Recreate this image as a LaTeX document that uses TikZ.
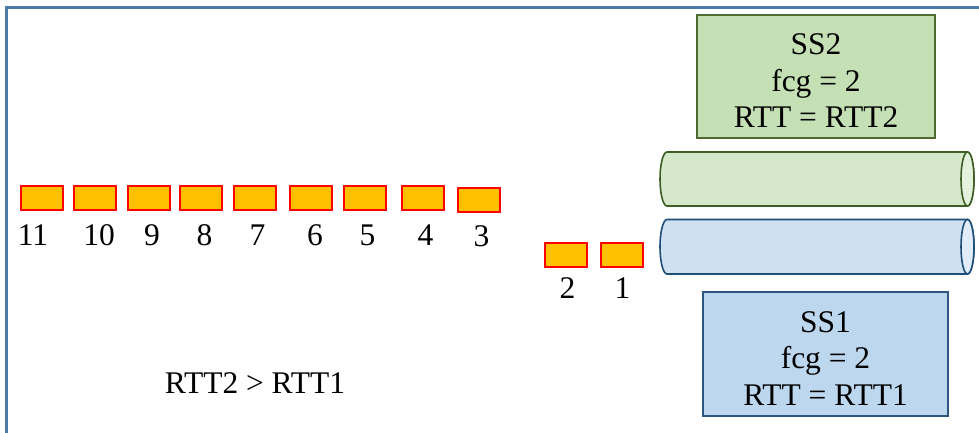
\documentclass[tikz,border=0pt]{standalone}
\usepackage{fontspec}
\setmainfont{Liberation Serif}
\definecolor{framec}{HTML}{4C7BAA}
\definecolor{pktfill}{HTML}{FFC000}
\definecolor{ssgfill}{HTML}{C5E0B4}
\definecolor{ssgdraw}{HTML}{4E6B2F}
\definecolor{ssbfill}{HTML}{BDD7EE}
\definecolor{ssbdraw}{HTML}{2B5680}
\definecolor{cylgfill}{HTML}{D5E8C9}
\definecolor{cylgend}{HTML}{E4F1DC}
\definecolor{cylgdraw}{HTML}{3D5E25}
\definecolor{cylbfill}{HTML}{CFE0F1}
\definecolor{cylbend}{HTML}{E0ECF7}
\definecolor{cylbdraw}{HTML}{1F4E79}
\tikzset{
  pkt/.style={draw=red, fill=pktfill, line width=2pt, minimum width=42pt, minimum height=24pt, inner sep=0pt},
  num/.style={anchor=base, inner sep=0pt, font=\fontsize{31.5}{36.5}\selectfont},
  ssbox/.style={rectangle, line width=1.6pt, minimum width=238pt, minimum height=123pt, inner sep=0pt},
  sstext/.style={align=center, inner sep=0pt, font=\fontsize{31.5}{36.5}\selectfont},
  cyl/.style={line width=1.6pt}
}
\begin{document}
\begin{tikzpicture}[x=1pt,y=-1pt]
\useasboundingbox (0,0) rectangle (979,433);
% frame
\draw[framec, line width=2.5pt] (6.5,433) -- (6.5,7.5) -- (979,7.5);
% cylinders
\draw[cyl, draw=cylgdraw, fill=cylgfill] (667,152) -- (967.5,152) arc[start angle=90, end angle=-90, x radius=6.5pt, y radius=27pt] -- (667,206) arc[start angle=270, end angle=90, x radius=7pt, y radius=27pt] -- cycle;
\draw[cyl, draw=cylgdraw, fill=cylgend] (967.5,179) ellipse[x radius=6.5pt, y radius=27pt];
\draw[cyl, draw=cylbdraw, fill=cylbfill] (667,219.5) -- (967.5,219.5) arc[start angle=90, end angle=-90, x radius=6.5pt, y radius=27.25pt] -- (667,274) arc[start angle=270, end angle=90, x radius=7pt, y radius=27.25pt] -- cycle;
\draw[cyl, draw=cylbdraw, fill=cylbend] (967.5,246.75) ellipse[x radius=6.5pt, y radius=27.25pt];
% SS boxes
\node[ssbox, draw=ssgdraw, fill=ssgfill] (ss2) at (816,76.5) {};
\node[sstext] (ss2t) at (816,81) {SS2\\fcg = 2\\RTT = RTT2};
\node[ssbox, draw=ssbdraw, fill=ssbfill, minimum width=245pt, minimum height=124pt] (ss1) at (825.5,354) {};
\node[sstext] (ss1t) at (825.5,358.5) {SS1\\fcg = 2\\RTT = RTT1};
% packets
\node[pkt] (p11) at (41.5,198) {};
\node[pkt] (p10) at (94.5,198) {};
\node[pkt] (p9) at (149,198) {};
\node[pkt] (p8) at (201,198) {};
\node[pkt] (p7) at (254.5,198) {};
\node[pkt] (p6) at (311,198) {};
\node[pkt] (p5) at (365.3,198) {};
\node[pkt] (p4) at (423.3,198) {};
\node[pkt] (p3) at (479.3,199.8) {};
\node[pkt] (p2) at (565.5,254.5) {};
\node[pkt] (p1) at (621.5,254.5) {};
% numbers
\node[num] (n11) at (33,245) {11};
\node[num] (n10) at (99,245) {10};
\node[num] (n9) at (152,245) {9};
\node[num] (n8) at (204.5,245) {8};
\node[num] (n7) at (257.5,245) {7};
\node[num] (n6) at (315,245) {6};
\node[num] (n5) at (367.5,245) {5};
\node[num] (n4) at (425.5,245) {4};
\node[num] (n3) at (481.5,246) {3};
\node[num] (n2) at (567.5,298) {2};
\node[num] (n1) at (622.5,298) {1};
% relation
\node[num] (rel) at (255,393) {RTT2 > RTT1};
\end{tikzpicture}
\end{document}
